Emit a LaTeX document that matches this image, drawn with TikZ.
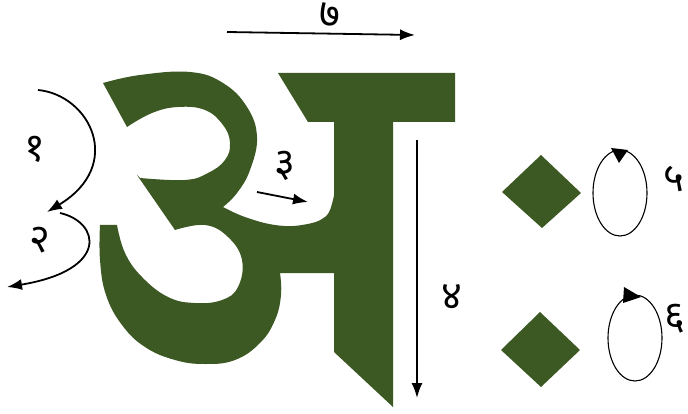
\documentclass[tikz,border=0pt]{standalone}
\usepackage{fontspec}
\newfontfamily\deva[Script=Devanagari]{Noto Sans}
\usetikzlibrary{arrows.meta,shapes.geometric}
\definecolor{glyphgreen}{RGB}{60,88,35}
\tikzset{
  glyph/.style={fill=glyphgreen},
  arr/.style={line width=1.8pt, -{Latex[length=15pt,width=11pt]}},
  num/.style={font=\deva\fontsize{40}{40}\selectfont, inner sep=0pt, text height=18pt, text depth=0pt},
  loopline/.style={line width=1.1pt},
  tiphead/.style={fill=black},
  dot/.style={fill=glyphgreen}
}
\begin{document}
\begin{tikzpicture}[x=1pt,y=-1pt]
\useasboundingbox (0,0) rectangle (688,414);
% main glyph
\fill[glyph]
 plot[smooth, tension=0.7] coordinates {(103,83) (140,75) (190,72) (223,83) (247,107) (257,137) (250,170) (237,193) (223,207)}
 -- plot[smooth, tension=0.7] coordinates {(223,207) (245,217) (275,225) (302,225) (325,217) (333,200) (334,190)}
 -- (334,122) -- (308,122) -- (278,73) -- (455,73) -- (455,122) -- (393,122) -- (393,407) -- (334,352) -- (334,273) -- (280,273)
 -- plot[smooth, tension=0.7] coordinates {(280,273) (281,295) (275,320) (260,343) (235,360) (205,364) (175,360) (145,347) (122,325) (106,295) (100,260) (100,225)}
 -- (117,225)
 -- plot[smooth, tension=0.7] coordinates {(117,225) (125,253) (142,277) (168,297) (195,303) (222,300) (238,287) (242,260) (228,237) (205,225) (175,230)}
 -- (137,175)
 -- plot[smooth, tension=0.7] coordinates {(140,178) (185,180) (208,173) (225,160) (230,143) (223,125) (205,110) (178,107) (152,113) (127,127)}
 -- cycle;
% visarga
\fill[dot] (502,192) -- (541,155) -- (581,193) -- (542,228) -- cycle;
\fill[dot] (501,350) -- (540,312) -- (580,350) -- (541,387) -- cycle;
% coordinates
\coordinate (a1s) at (38,90);
\coordinate (a1e) at (47,212);
\coordinate (a2s) at (60,213);
\coordinate (a2e) at (7,287);
\coordinate (a3s) at (257,192);
\coordinate (a3e) at (308,202);
\coordinate (a4s) at (417,140);
\coordinate (a4e) at (417,398);
\coordinate (a7s) at (227,32);
\coordinate (a7e) at (415,35);
% strokes
\draw[arr] (a1s) .. controls (90,95) and (125,165) .. (a1e);
\draw[arr] (a2s) .. controls (100,222) and (110,270) .. (a2e);
\draw[arr] (a3s) -- (a3e);
\draw[arr] (a4s) -- (a4e);
\draw[arr] (a7s) -- (a7e);
% loops
\node[draw, loopline, ellipse, minimum width=54pt, minimum height=86pt, inner sep=0pt] (e5) at (620,193) {};
\node[draw, loopline, ellipse, minimum width=54pt, minimum height=86pt, inner sep=0pt] (e6) at (635,338) {};
\fill[tiphead] (611,148) -- (628,150) -- (619,163) -- cycle;
\fill[tiphead] (624,287) -- (641,297) -- (623,303) -- cycle;
% labels
\node[num] (n1) at (35,153) {१};
\node[num] (n2) at (40,243) {२};
\node[num] (n3) at (285,168) {३};
\node[num] (n4) at (452,300) {४};
\node[num] (n5) at (674,183) {५};
\node[num] (n6) at (675,320) {६};
\node[num] (n7) at (330,19) {७};
\end{tikzpicture}
\end{document}
